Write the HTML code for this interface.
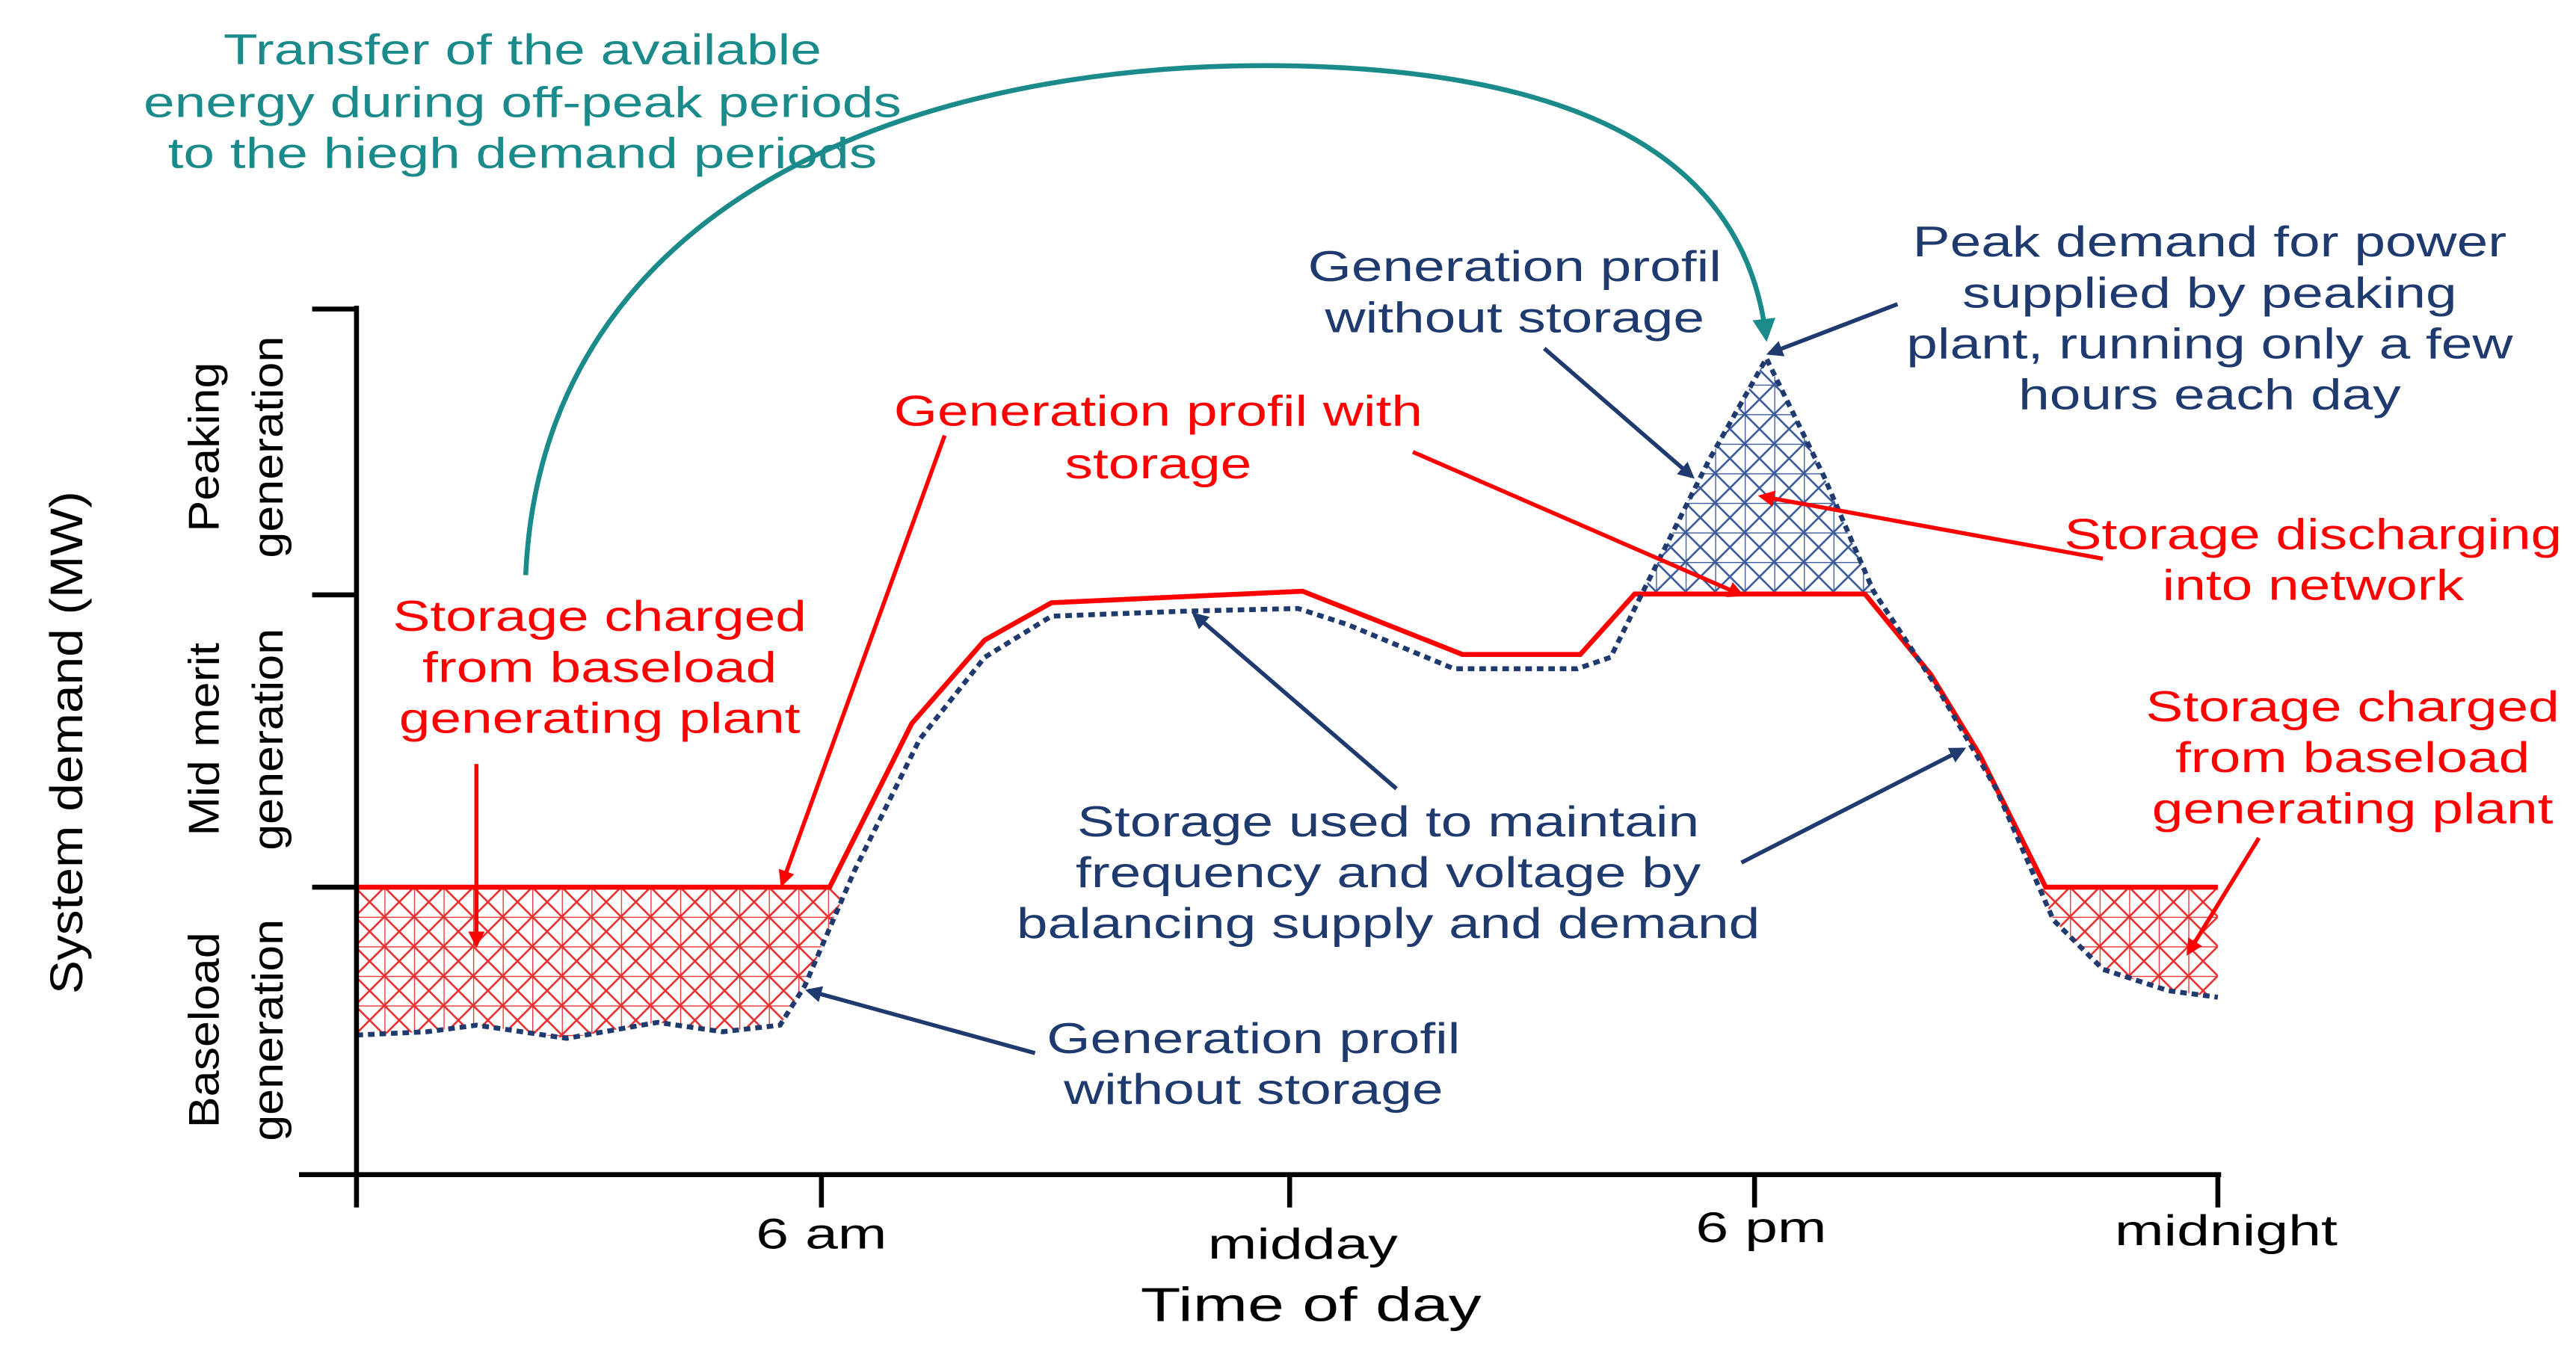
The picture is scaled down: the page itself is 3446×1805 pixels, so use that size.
<!DOCTYPE html>
<html><head><meta charset="utf-8"><style>
html,body{margin:0;padding:0;background:#fff;}
svg{display:block;font-family:"Liberation Sans",sans-serif;}
</style></head><body>
<svg id="chart" width="3446" height="1805" viewBox="0 0 1568 821" xmlns="http://www.w3.org/2000/svg">
<defs>
<pattern id="hatchRed" width="18" height="18" patternUnits="userSpaceOnUse">
<path d="M0,0L18,18M18,0L0,18M0,0H18M0,0V18" stroke="#e83030" stroke-width="1.2" fill="none"/>
</pattern>
<pattern id="hatchBlue" width="18" height="18" patternUnits="userSpaceOnUse">
<path d="M0,0L18,18M18,0L0,18M0,0H18M0,0V18" stroke="#3a5a9a" stroke-width="1.2" fill="none"/>
</pattern>
<marker id="arNavy" markerWidth="10" markerHeight="10" refX="8" refY="5" orient="auto" markerUnits="userSpaceOnUse"><path d="M0,0L10,5L0,10z" fill="#1f3a6e"/></marker>
<marker id="arRed" markerWidth="10" markerHeight="10" refX="8" refY="5" orient="auto" markerUnits="userSpaceOnUse"><path d="M0,0L10,5L0,10z" fill="#f00"/></marker>
<marker id="arTeal" markerWidth="14" markerHeight="14" refX="11" refY="7" orient="auto" markerUnits="userSpaceOnUse"><path d="M0,0L14,7L0,14z" fill="#1a8a8a"/></marker>
<clipPath id="clipLow"><rect x="0" y="541" width="1568" height="200"/></clipPath>
<clipPath id="clipHigh"><rect x="0" y="0" width="1568" height="361"/></clipPath>
</defs>
<g id="areas"></g>
<g id="lines"></g>
<g id="axes" stroke="#000" stroke-width="3" fill="none">
<line x1="217" y1="186" x2="217" y2="717"/>
<line x1="182" y1="715" x2="1352" y2="715"/>
<line x1="190" y1="188" x2="217" y2="188"/>
<line x1="190" y1="362" x2="217" y2="362"/>
<line x1="190" y1="540" x2="217" y2="540"/>
<line x1="500" y1="715" x2="500" y2="735"/>
<line x1="785" y1="715" x2="785" y2="735"/>
<line x1="1068" y1="715" x2="1068" y2="735"/>
<line x1="1350" y1="715" x2="1350" y2="735"/>
<line x1="217" y1="715" x2="217" y2="735"/>
</g>
<g font-size="26" text-anchor="middle">
<text transform="translate(50,452) rotate(-90)" font-size="28">System demand (MW)</text>
<g><text transform="translate(133,272) rotate(-90)">Peaking</text><text transform="translate(172,272) rotate(-90)">generation</text></g>
<g><text transform="translate(133,450) rotate(-90)">Mid merit</text><text transform="translate(172,450) rotate(-90)">generation</text></g>
<g><text transform="translate(133,627) rotate(-90)">Baseload</text><text transform="translate(172,627) rotate(-90)">generation</text></g>
<text class="big" x="500" y="760">6 am</text>
<text class="big" x="793" y="766">midday</text>
<text class="big" x="1072" y="756">6 pm</text>
<text class="big" x="1355" y="758">midnight</text>
<text class="big" x="798" y="804" font-size="29">Time of day</text>
<g fill="#1a8a8a"><text x="318" y="39">Transfer of the available</text><text x="318" y="71">energy during off-peak periods</text><text x="318" y="102">to the hiegh demand periods</text></g>
<g fill="#1f3a6e">
<g><text x="922" y="171">Generation profil</text><text x="922" y="202">without storage</text></g>
<g><text x="1345" y="156">Peak demand for power</text><text x="1345" y="187">supplied by peaking</text><text x="1345" y="218">plant, running only a few</text><text x="1345" y="249">hours each day</text></g>
<g><text x="845" y="509">Storage used to maintain</text><text x="845" y="540">frequency and voltage by</text><text x="845" y="571">balancing supply and demand</text></g>
<g><text x="763" y="641">Generation profil</text><text x="763" y="672">without storage</text></g>
</g>
<g fill="#f00">
<g><text x="705" y="259">Generation profil with</text><text x="705" y="291">storage</text></g>
<g><text x="1408" y="334">Storage discharging</text><text x="1408" y="365">into network</text></g>
<g><text x="365" y="384">Storage charged</text><text x="365" y="415">from baseload</text><text x="365" y="446">generating plant</text></g>
<g><text x="1432" y="439">Storage charged</text><text x="1432" y="470">from baseload</text><text x="1432" y="501">generating plant</text></g>
</g>
</g>
<g fill="none" stroke-width="2.5">
<path d="M320,350 C330,120 560,35 790,40 C1000,45 1065,120 1075,205" stroke="#1a8a8a" stroke-width="3" marker-end="url(#arTeal)"/>
<g stroke="#1f3a6e" marker-end="url(#arNavy)">
<line x1="940" y1="212" x2="1030" y2="290"/>
<line x1="1155" y1="185" x2="1077" y2="215"/>
<line x1="850" y1="480" x2="727" y2="374"/>
<line x1="1060" y1="525" x2="1195" y2="456"/>
<line x1="630" y1="641" x2="492" y2="603"/>
</g>
<g stroke="#f00" marker-end="url(#arRed)">
<line x1="575" y1="265" x2="476" y2="538"/>
<line x1="860" y1="275" x2="1060" y2="362"/>
<line x1="1280" y1="340" x2="1072" y2="302"/>
<line x1="290" y1="465" x2="290" y2="575"/>
<line x1="1375" y1="510" x2="1332" y2="580"/>
</g>
</g>
</svg>
<script>
// demand in generation-band units (0 = bottom, 1 = baseload top, 2 = mid-merit top, 3 = peaking top)
const withHours = [0, 6.1, 7.16, 8.1, 8.96, 12.2, 14.26, 15.78, 16.48, 19.45, 20.3, 20.93, 21.78, 24];
const withValues = [1.0, 1.0, 1.57, 1.86, 1.99, 2.03, 1.81, 1.81, 2.02, 2.02, 1.74, 1.46, 1.0, 1.0];
const withoutHours = [0, 0.91, 1.55, 2.71, 3.88, 4.72, 5.46, 5.78, 6.42, 7.26, 8.1, 8.96, 10.65, 12.14, 12.78, 14.15, 15.74, 16.17, 16.59, 17.44, 18.18, 18.92, 19.56, 20.4, 21.14, 21.88, 22.52, 23.36, 24];
const withoutValues = [0.486, 0.497, 0.52, 0.474, 0.53, 0.497, 0.52, 0.657, 1.057, 1.514, 1.8, 1.943, 1.96, 1.97, 1.914, 1.76, 1.76, 1.8, 2.03, 2.486, 2.84, 2.43, 2.03, 1.686, 1.343, 0.886, 0.714, 0.64, 0.617];
const levels = [1, 2.02];
const NS = "http://www.w3.org/2000/svg";
const xS = h => 217 + h * (1133 / 24);
const yS = v => 715 - v * 175;
const pts = (H, V) => H.map((h, i) => xS(h).toFixed(1) + "," + yS(V[i]).toFixed(1)).join(" ");
const areas = document.getElementById("areas");
const lines = document.getElementById("lines");
const blueCoords = pts(withoutHours, withoutValues);
const charge = document.createElementNS(NS, "polygon");
charge.setAttribute("points", xS(0) + "," + yS(levels[0]) + " " + blueCoords + " " + xS(24) + "," + yS(levels[0]));
charge.setAttribute("fill", "url(#hatchRed)");
charge.setAttribute("clip-path", "url(#clipLow)");


areas.appendChild(charge);
const dis = document.createElementNS(NS, "polygon");
dis.setAttribute("points", xS(0) + "," + yS(levels[1]) + " " + blueCoords + " " + xS(24) + "," + yS(levels[1]));
dis.setAttribute("fill", "url(#hatchBlue)");
dis.setAttribute("clip-path", "url(#clipHigh)");


areas.appendChild(dis);
const red = document.createElementNS(NS, "polyline");
red.setAttribute("points", pts(withHours, withValues));
red.setAttribute("fill", "none");
red.setAttribute("stroke", "#f00");
red.setAttribute("stroke-width", "3");


lines.appendChild(red);
const blue = document.createElementNS(NS, "polyline");
blue.setAttribute("points", blueCoords);
blue.setAttribute("fill", "none");
blue.setAttribute("stroke", "#1f3a6e");
blue.setAttribute("stroke-width", "3");
blue.setAttribute("stroke-dasharray", "4,3");


lines.appendChild(blue);
// widen text to match the reference's wide typeface
document.querySelectorAll("#chart text").forEach(t => {
  const tr = t.getAttribute("transform") || "";
  const f = tr.indexOf("rotate") >= 0 ? 1.1 : (t.classList.contains("big") ? 1.38 : 1.31);
  const w = t.getComputedTextLength();
  t.setAttribute("textLength", (w * f).toFixed(1));
  t.setAttribute("lengthAdjust", "spacingAndGlyphs");
});
</script>
</body></html>
